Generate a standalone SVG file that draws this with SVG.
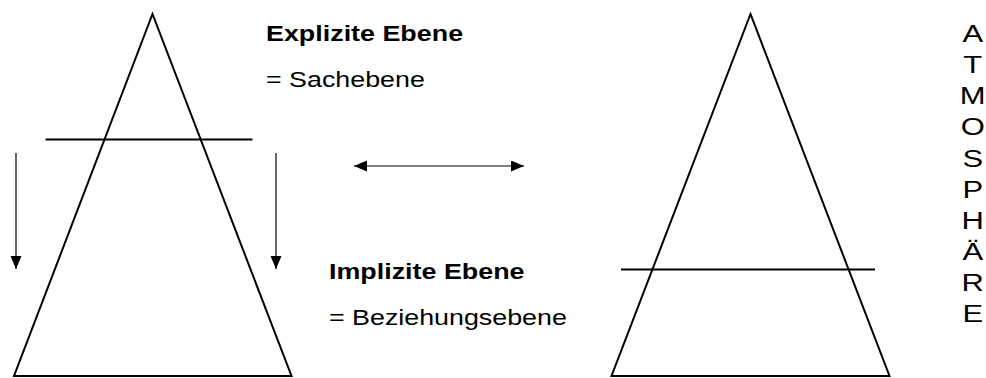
<svg xmlns="http://www.w3.org/2000/svg" width="986" height="378" viewBox="0 0 986 378">
<style>
.shape{fill:none;stroke:#000;stroke-width:2;stroke-linejoin:miter}
.conn{fill:none;stroke:#000;stroke-width:1.2}
.t{font-family:"Liberation Sans",Arial,sans-serif;fill:#000}
.b{font-weight:bold;font-size:21.5px}
.r{font-size:22px}
.v{font-size:24px;text-anchor:middle}
</style>
<defs>
<marker id="ah" markerUnits="userSpaceOnUse" markerWidth="14" markerHeight="12" refX="13" refY="5.5" orient="auto-start-reverse">
<path d="M0,0 L13,5.5 L0,11 Z" fill="#000"/>
</marker>
</defs>
<rect width="986" height="378" fill="#fff"/>
<g id="triangle-left">
<polygon class="shape" points="152.5,14 14,376 291.5,376"/>
<line class="shape" x1="45.5" y1="139.5" x2="252.5" y2="139.5"/>
</g>
<g id="triangle-right">
<polygon class="shape" points="750.5,14 611.5,376 889.5,376"/>
<line class="shape" x1="621" y1="269.5" x2="875" y2="269.5"/>
</g>
<g id="label-explizit">
<text class="t b" transform="translate(266,40.7) scale(1.25,1)">Explizite Ebene</text>
<text class="t r" transform="translate(266,87) scale(1.22,1)">= Sachebene</text>
</g>
<g id="label-implizit">
<text class="t b" transform="translate(329,279.3) scale(1.25,1)">Implizite Ebene</text>
<text class="t r" transform="translate(329,325) scale(1.22,1)">= Beziehungsebene</text>
</g>
<g id="label-atmosphaere">
<text class="t v" transform="translate(972.7,42.3) scale(1.29,1)">A</text>
<text class="t v" transform="translate(972.7,73.35) scale(1.29,1)">T</text>
<text class="t v" transform="translate(972.7,104.4) scale(1.29,1)">M</text>
<text class="t v" transform="translate(972.7,135.45) scale(1.29,1)">O</text>
<text class="t v" transform="translate(972.7,166.5) scale(1.29,1)">S</text>
<text class="t v" transform="translate(972.7,197.55) scale(1.29,1)">P</text>
<text class="t v" transform="translate(972.7,228.6) scale(1.29,1)">H</text>
<text class="t v" transform="translate(972.7,259.65) scale(1.29,1)">Ä</text>
<text class="t v" transform="translate(972.7,290.7) scale(1.29,1)">R</text>
<text class="t v" transform="translate(972.7,321.75) scale(1.29,1)">E</text>
</g>
<g id="connectors">
<line class="conn" x1="16" y1="153" x2="16" y2="269" marker-end="url(#ah)"/>
<line class="conn" x1="276" y1="153" x2="276" y2="269" marker-end="url(#ah)"/>
<line class="conn" x1="354" y1="166" x2="524" y2="166" marker-start="url(#ah)" marker-end="url(#ah)"/>
</g>
</svg>
